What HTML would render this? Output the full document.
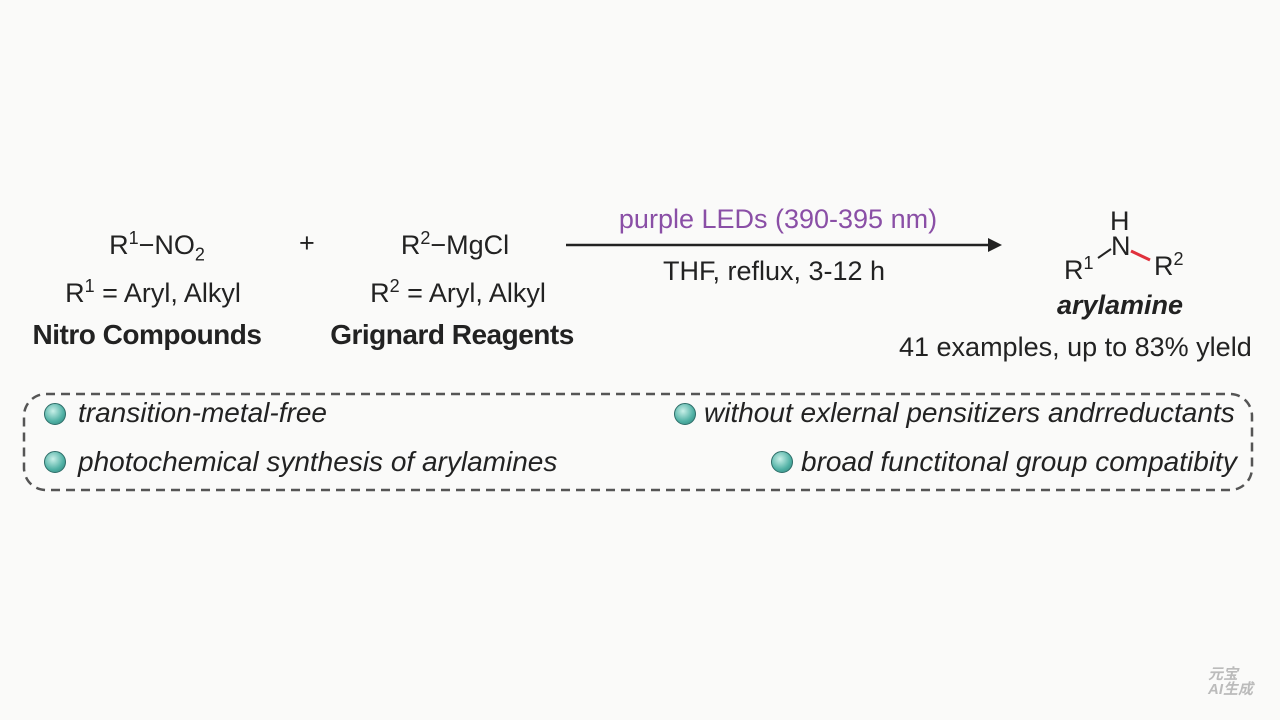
<!DOCTYPE html>
<html><head><meta charset="utf-8"><style>
body{margin:0;width:1280px;height:720px;background:#fafaf9;position:relative;font-family:"Liberation Sans",sans-serif;color:#222;overflow:hidden}
.t{position:absolute;white-space:nowrap;font-size:27px}
.c{transform:translateX(-50%)}
.b{font-weight:bold;letter-spacing:-0.5px;font-size:28px}
sup,sub{font-size:18px}
.i{font-style:italic;font-size:28px}
.dot{position:absolute;width:20px;height:20px;border-radius:50%;background:radial-gradient(circle at 40% 35%,#c8f0e8,#4fb0a4 60%,#2f7f78);border:1.5px solid #2d6d68}
</style></head><body>
<div class="t c" style="left:157px;top:228px">R<sup>1</sup>−NO<sub>2</sub></div>
<div class="t c" style="left:153px;top:276px">R<sup>1</sup> = Aryl, Alkyl</div>
<div class="t c b" style="left:147px;top:319px">Nitro Compounds</div>
<div class="t" style="left:299px;top:228px">+</div>
<div class="t c" style="left:455px;top:228px">R<sup>2</sup>−MgCl</div>
<div class="t c" style="left:458px;top:276px">R<sup>2</sup> = Aryl, Alkyl</div>
<div class="t c b" style="left:452px;top:319px">Grignard Reagents</div>
<div class="t c" style="left:778px;top:204px;color:#8a4fa6">purple LEDs (390-395 nm)</div>
<svg style="position:absolute;left:0;top:0" width="1280" height="720">
<line x1="566" y1="245" x2="992" y2="245" stroke="#222" stroke-width="2.5"/>
<polygon points="1002,245 988,238 988,252" fill="#222"/>
<line x1="1098" y1="258" x2="1111" y2="249" stroke="#222" stroke-width="2"/>
<line x1="1131" y1="251" x2="1150" y2="260" stroke="#e0303c" stroke-width="3"/>
<rect x="24" y="394" width="1228" height="96" rx="22" fill="none" stroke="#555" stroke-width="2.5" stroke-dasharray="9,6"/>
</svg>
<div class="t c" style="left:774px;top:256px">THF, reflux,  3-12 h</div>
<div class="t" style="left:1110px;top:206px">H</div>
<div class="t" style="left:1111px;top:231px">N</div>
<div class="t" style="left:1064px;top:253px">R<sup>1</sup></div>
<div class="t" style="left:1154px;top:249px">R<sup>2</sup></div>
<div class="t c" style="left:1120px;top:290px;font-weight:bold;font-style:italic">arylamine</div>
<div class="t" style="left:899px;top:332px">41 examples, up to 83% yleld</div>
<div class="dot" style="left:44px;top:403px"></div>
<div class="t i" style="left:78px;top:397px">transition-metal-free</div>
<div class="dot" style="left:44px;top:451px"></div>
<div class="t i" style="left:78px;top:446px">photochemical synthesis of arylamines</div>
<div class="dot" style="left:674px;top:403px"></div>
<div class="t i" style="left:704px;top:397px">without exlernal pensitizers andrreductants</div>
<div class="dot" style="left:771px;top:451px"></div>
<div class="t i" style="left:801px;top:446px">broad functitonal group compatibity</div>
<div class="t" style="left:1208px;top:667px;font-size:15px;color:#bbb;font-weight:bold;font-style:italic;line-height:15px;font-family:'Liberation Sans','Noto Sans CJK SC',sans-serif">元宝<br>AI生成</div>
</body></html>
